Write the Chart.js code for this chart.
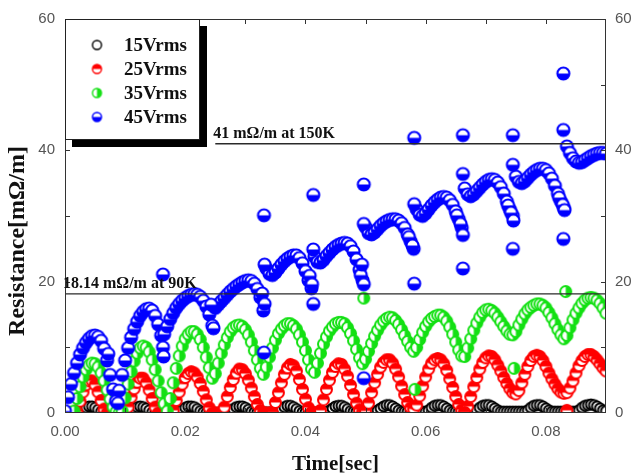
<!DOCTYPE html>
<html>
<head>
<meta charset="utf-8">
<script src="https://cdn.jsdelivr.net/npm/chart.js@4.4.0/dist/chart.umd.min.js"></script>
<style>
  html, body { margin: 0; padding: 0; background: #fff; }
  canvas { display: block; }
</style>
</head>
<body>
<canvas id="chart" width="635" height="474"></canvas>
<script>
// sample times, ms
const timeMs = [
  0, 0.5, 1, 1.5, 2, 2.5, 3, 3.5, 4, 4.5,
  5, 5.5, 6, 6.5, 7, 7.5, 8, 8.5, 9, 9.5,
  10, 10.5, 11, 11.5, 12, 12.5, 13, 13.5, 14, 14.5,
  15, 15.5, 16, 16.5, 17, 17.5, 18, 18.5, 19, 19.5,
  20, 20.5, 21, 21.5, 22, 22.5, 23, 23.5, 24, 24.5,
  25, 25.5, 26, 26.5, 27, 27.5, 28, 28.5, 29, 29.5,
  30, 30.5, 31, 31.5, 32, 32.5, 33, 33.5, 34, 34.5,
  35, 35.5, 36, 36.5, 37, 37.5, 38, 38.5, 39, 39.5,
  40, 40.5, 41, 41.5, 42, 42.5, 43, 43.5, 44, 44.5,
  45, 45.5, 46, 46.5, 47, 47.5, 48, 48.5, 49, 49.5,
  50, 50.5, 51, 51.5, 52, 52.5, 53, 53.5, 54, 54.5,
  55, 55.5, 56, 56.5, 57, 57.5, 58, 58.5, 59, 59.5,
  60, 60.5, 61, 61.5, 62, 62.5, 63, 63.5, 64, 64.5,
  65, 65.5, 66, 66.5, 67, 67.5, 68, 68.5, 69, 69.5,
  70, 70.5, 71, 71.5, 72, 72.5, 73, 73.5, 74, 74.5,
  75, 75.5, 76, 76.5, 77, 77.5, 78, 78.5, 79, 79.5,
  80, 80.5, 81, 81.5, 82, 82.5, 83, 83.5, 84, 84.5,
  85, 85.5, 86, 86.5, 87, 87.5, 88, 88.5, 89, 89.5,
  90
]

// resistance, mOhm/m
const r15 = [
  0, 0, 0, 0, 0, 0.2, 0.5, 0.8, 1.0, 1.0,
  0.8, 0.5, 0.2, 0, 0, 0, 0, 0, 0, 0,
  0, 0.1, 0.4, 0.7, 0.9, 1.0, 0.9, 0.7, 0.4, 0.1,
  0, 0, 0, 0, 0, 0, 0, 0, 0.2, 0.5,
  0.8, 1.0, 1.0, 0.9, 0.6, 0.3, 0.1, 0, 0, 0,
  0, 0, 0, 0, 0, 0.3, 0.6, 0.9, 1.0, 1.0,
  0.8, 0.5, 0.2, 0.1, 0.1, 0.1, 0.1, 0.1, 0.1, 0.1,
  0.1, 0.3, 0.6, 0.9, 1.1, 1.1, 0.9, 0.6, 0.3, 0.1,
  0.1, 0.1, 0.1, 0.1, 0.1, 0.1, 0.1, 0.1, 0.4, 0.7,
  1.0, 1.1, 1.1, 0.9, 0.6, 0.3, 0.2, 0.2, 0.2, 0.2,
  0.2, 0.2, 0.2, 0.2, 0.4, 0.7, 1.0, 1.2, 1.2, 1.0,
  0.7, 0.4, 0.2, 0.2, 0.2, 0.2, 0.2, 0.2, 0.2, 0.2,
  0.2, 0.4, 0.8, 1.1, 1.2, 1.2, 1.0, 0.7, 0.4, 0.2,
  0.2, 0.2, 0.2, 0.2, 0.2, 0.2, 0.2, 0.4, 0.8, 1.1,
  1.2, 1.2, 1.0, 0.7, 0.4, 0.2, 0.2, 0.2, 0.2, 0.2,
  0.2, 0.2, 0.2, 0.2, 0.4, 0.8, 1.1, 1.2, 1.2, 1.0,
  0.7, 0.4, 0.2, 0.2, 0.2, 0.2, 0.2, 0.2, 0.2, 0.2,
  0.2, 0.4, 0.8, 1.1, 1.2, 1.3, 1.2, 1.0, 0.7, 0.4,
  0.3
]

const r25 = [
  0, 0, 0, 0, 0.2, 1.8, 3.2, 4.3, 4.9, 4.9,
  4.3, 3.2, 1.9, 0.6, 0, 0, 0, 0, 0, 0,
  0, 0.9, 2.4, 3.7, 4.7, 5.3, 5.3, 4.6, 3.5, 2.2,
  0.9, 0, 0, 0, 0, 0, 0.4, 1.9, 3.2, 4.4,
  5.4, 6.0, 6.3, 6.1, 5.5, 4.5, 3.3, 2.0, 0.8, 0,
  0, 0, 0, 0.9, 2.5, 3.9, 5.1, 6.1, 6.7, 6.6,
  6.0, 5.0, 3.8, 2.5, 1.3, 0.4, 0, 0, 0, 0.1,
  1.6, 3.1, 4.6, 5.9, 6.9, 7.4, 7.2, 6.4, 5.1, 3.6,
  2.1, 0.8, 0.1, 0, 0, 0.4, 2.0, 3.6, 5.0, 6.2,
  7.1, 7.5, 7.4, 6.7, 5.6, 4.2, 2.8, 1.5, 0.5, 0.1,
  0.3, 1.5, 3.1, 4.6, 5.9, 7.0, 7.7, 8.1, 8.1, 7.6,
  6.7, 5.5, 4.1, 2.8, 1.6, 0.8, 0.6, 1.2, 2.6, 4.1,
  5.5, 6.7, 7.6, 8.1, 8.3, 8.1, 7.5, 6.5, 5.2, 3.9,
  2.5, 1.3, 0.5, 0.2, 1.0, 2.5, 4.0, 5.4, 6.7, 7.7,
  8.4, 8.7, 8.6, 8.1, 7.3, 6.4, 5.4, 4.5, 3.7, 3.1,
  2.9, 3.4, 4.6, 5.9, 7.1, 8.0, 8.6, 8.8, 8.6, 8.0,
  7.1, 6.1, 5.2, 4.4, 3.7, 3.2, 3.0, 3.1, 3.8, 4.9,
  6.1, 7.2, 8.0, 8.6, 8.9, 8.9, 8.6, 8.1, 7.5, 6.9,
  6.4
]

const r35 = [
  0, 0, 0, 0.3, 2.2, 4.0, 5.5, 6.6, 7.3, 7.6,
  7.5, 7.0, 6.1, 4.9, 3.5, 2.1, 0.9, 0.2, 0, 0.3,
  2.3, 4.4, 6.3, 7.9, 9.1, 9.9, 10.2, 10.0, 9.3, 8.1,
  6.6, 4.9, 3.1, 1.4, 0.3, 2.2, 4.6, 6.8, 8.7, 10.2,
  11.3, 12.0, 12.4, 12.4, 12.0, 11.2, 10.0, 8.5, 6.9, 5.3,
  6.0, 7.6, 9.1, 10.4, 11.5, 12.4, 13.0, 13.3, 13.4, 13.2,
  12.7, 11.9, 10.8, 9.5, 8.1, 6.8, 5.9, 7.0, 8.5, 9.9,
  11.1, 12.1, 12.8, 13.3, 13.6, 13.6, 13.3, 12.8, 11.9, 10.8,
  9.5, 8.1, 6.7, 6.2, 7.6, 9.1, 10.5, 11.6, 12.5, 13.1,
  13.6, 13.8, 13.8, 13.6, 13.0, 12.1, 11.0, 9.7, 8.4, 7.5,
  8.2, 9.4, 10.6, 11.7, 12.6, 13.4, 14.0, 14.4, 14.6, 14.5,
  14.1, 13.5, 12.7, 11.8, 10.9, 10.0, 9.4, 10.0, 11.2, 12.3,
  13.2, 13.9, 14.4, 14.7, 14.9, 14.9, 14.6, 14.0, 13.1, 12.0,
  10.8, 9.6, 8.7, 8.6, 9.9, 11.3, 12.6, 13.7, 14.6, 15.3,
  15.7, 15.8, 15.6, 15.2, 14.6, 13.9, 13.2, 12.5, 12.0, 11.9,
  12.4, 13.4, 14.3, 15.1, 15.7, 16.1, 16.4, 16.6, 16.6, 16.4,
  16.0, 15.3, 14.5, 13.6, 12.7, 11.9, 11.3, 11.8, 13.0, 14.2,
  15.2, 16.0, 16.7, 17.2, 17.5, 17.6, 17.5, 17.2, 16.7, 16.0,
  15.2
]

const r45 = [
  0.3, 2.4, 4.4, 6.1, 7.6, 8.9, 9.9, 10.7, 11.3, 11.7,
  11.8, 11.6, 11.0, 9.8, 8.0, 5.8, 3.6, 1.8, 3.4, 5.8,
  8.0, 9.9, 11.5, 12.8, 13.9, 14.8, 15.4, 15.8, 15.9, 15.6,
  14.8, 13.5, 11.8, 12.0, 13.2, 14.3, 15.2, 16.0, 16.6, 17.1,
  17.5, 17.8, 18.0, 18.1, 18.0, 17.7, 17.1, 16.2, 15.0, 13.3,
  16.0, 16.5, 17.0, 17.5, 18.0, 18.5, 18.9, 19.3, 19.6, 19.9,
  20.1, 20.2, 20.1, 19.7, 18.9, 17.6, 15.6, 22.0, 21.2, 21.0,
  21.4, 22.0, 22.6, 23.1, 23.5, 23.8, 24.0, 24.0, 23.6, 22.8,
  21.6, 20.2, 19.0, 23.8, 23.0, 22.9, 23.3, 23.9, 24.4, 24.9,
  25.3, 25.6, 25.8, 25.9, 25.8, 25.4, 24.6, 23.4, 21.8, 20.2,
  28.3, 27.4, 27.2, 27.5, 28.0, 28.5, 28.9, 29.2, 29.4, 29.5,
  29.5, 29.3, 28.9, 28.2, 27.2, 26.1, 25.0, 31.0, 30.2, 30.0,
  30.4, 31.0, 31.6, 32.1, 32.5, 32.8, 32.9, 32.8, 32.4, 31.7,
  30.7, 29.5, 28.2, 34.2, 33.3, 33.0, 33.3, 33.8, 34.3, 34.8,
  35.2, 35.5, 35.6, 35.5, 35.1, 34.4, 33.4, 32.2, 31.0, 30.0,
  36.0, 35.2, 35.0, 35.3, 35.8, 36.3, 36.7, 37.0, 37.2, 37.2,
  37.0, 36.5, 35.7, 34.6, 33.4, 32.2, 31.2, 40.6, 39.6, 38.8,
  38.3, 38.1, 38.2, 38.5, 38.8, 39.1, 39.3, 39.5, 39.6, 39.6,
  39.5
]

// points off the sample grid (fast drops and stray readings), [ms, value]
const extra25 = [[66.5, 0.1], [83.5, 0.4]]
const extra35 = [[49.7, 17.5], [58.2, 3.6], [74.7, 6.8], [83.3, 18.5]]
const extra45 = [
  [7.2, 9.0], [8.8, 1.5],
  [16.3, 21.1], [16.3, 10.0], [16.4, 8.6],
  [24.3, 16.5], [24.7, 12.9],
  [32.8, 18.2], [33.1, 30.1], [33.1, 9.2], [33.2, 16.6], [33.2, 22.6],
  [40.7, 20.9], [41.1, 19.6], [41.3, 33.2], [41.3, 16.6], [41.3, 24.9],
  [49.2, 21.0], [49.4, 22.6], [49.7, 34.8], [49.7, 28.8], [49.7, 19.6], [49.7, 5.3],
  [57.2, 26.8], [57.8, 25.5], [58.1, 41.9], [58.1, 31.8], [58.1, 19.7],
  [65.2, 30.1], [65.8, 28.8], [66.2, 27.1], [66.2, 42.3], [66.2, 36.4], [66.2, 22.0],
  [73.7, 31.6], [74.2, 30.5], [74.6, 29.3], [74.5, 42.3], [74.5, 37.8], [74.5, 25.0],
  [82.2, 32.8], [82.8, 31.7], [83.1, 30.9], [82.9, 51.7], [82.9, 43.1], [82.9, 26.5]
]

const seriesLabels = ['15Vrms', '25Vrms', '35Vrms', '45Vrms']
const xTicks = [0, 0.02, 0.04, 0.06, 0.08]
const yTicks = [0, 20, 40, 60]
const xTickMarks = [0.01, 0.02, 0.03, 0.04, 0.05, 0.06, 0.07, 0.08]
const yTickMarks = [10, 20, 30, 40, 50]
const refLines = [
  { text: '18.14 mΩ/m at 90K', from: 0, to: 0.09, value: 18.14 },
  { text: '41 mΩ/m at 150K', from: 0.025, to: 0.09, value: 41 }
]

const serif = '"Liberation Serif", "DejaVu Serif", serif'
const sans = '"Liberation Sans", Arial, sans-serif'

// circle symbols, partly filled like the original plot
function marker(fill, color, r, lw) {
  const size = Math.ceil(r * 2 + lw + 2)
  const c = document.createElement('canvas')
  c.width = size
  c.height = size
  const g = c.getContext('2d')
  const m = size / 2
  g.beginPath()
  g.arc(m, m, r, 0, Math.PI * 2)
  g.fillStyle = '#fff'
  g.fill()
  if (fill) {
    g.beginPath()
    if (fill === 'top') g.arc(m, m, r, Math.PI, Math.PI * 2)
    if (fill === 'bottom') g.arc(m, m, r, 0, Math.PI)
    if (fill === 'right') g.arc(m, m, r, -Math.PI / 2, Math.PI / 2)
    g.closePath()
    g.fillStyle = color
    g.fill()
  }
  g.beginPath()
  g.arc(m, m, r, 0, Math.PI * 2)
  g.lineWidth = lw
  g.strokeStyle = color
  g.stroke()
  return c
}

const looks = [
  { color: '#000000', fill: null, r: 5, lw: 2.1 },
  { color: '#ff0000', fill: 'top', r: 5.5, lw: 2.0 },
  { color: '#14e014', fill: 'right', r: 5.5, lw: 2.0 },
  { color: '#0000ff', fill: 'bottom', r: 6, lw: 2.1 }
]
const dataMarkers = looks.map(l => marker(l.fill, l.color, l.r, l.lw))
const legendMarkers = looks.map(l => marker(l.fill, l.color, 4.5, 1.4))

function points(values, extra) {
  const pts = timeMs.map((t, i) => ({ x: t / 1000, y: values[i] }))
  extra.forEach(p => pts.push({ x: p[0] / 1000, y: p[1] }))
  return pts
}

const seriesValues = [r15, r25, r35, r45]
const seriesExtra = [[], extra25, extra35, extra45]

const datasets = seriesValues.map((vals, k) => ({
  label: seriesLabels[k],
  data: points(vals, seriesExtra[k]),
  pointStyle: dataMarkers[k],
  pointRadius: 5,
  showLine: false,
  order: 4 - k
}))

refLines.forEach(l => {
  datasets.push({
    label: l.text,
    data: [{ x: l.from, y: l.value }, { x: l.to, y: l.value }],
    showLine: true,
    borderColor: '#2a2a2a',
    borderWidth: 1.3,
    pointRadius: 0,
    order: 0
  })
})

const decorations = {
  id: 'decorations',
  afterDatasetsDraw(chart) {
    const { ctx, chartArea: a, scales: { x, y } } = chart
    ctx.save()

    // frame and inward ticks
    ctx.strokeStyle = '#333'
    ctx.lineWidth = 1
    ctx.strokeRect(a.left + 0.5, a.top + 0.5, a.right - a.left - 1, a.bottom - a.top - 1)
    ctx.beginPath()
    xTickMarks.forEach(v => {
      const px = Math.round(x.getPixelForValue(v)) + 0.5
      ctx.moveTo(px, a.top)
      ctx.lineTo(px, a.top + 5)
      ctx.moveTo(px, a.bottom)
      ctx.lineTo(px, a.bottom - 5)
    })
    yTickMarks.forEach(v => {
      const py = Math.round(y.getPixelForValue(v)) + 0.5
      ctx.moveTo(a.left, py)
      ctx.lineTo(a.left + 5, py)
      ctx.moveTo(a.right, py)
      ctx.lineTo(a.right - 5, py)
    })
    ctx.stroke()

    // reference line captions
    ctx.fillStyle = '#111'
    ctx.font = 'bold 16px ' + serif
    ctx.textAlign = 'left'
    ctx.textBaseline = 'alphabetic'
    refLines.forEach(l => {
      ctx.fillText(l.text, x.getPixelForValue(l.from) - 2, y.getPixelForValue(l.value) - 6)
    })

    // legend box with heavy shadow
    const bx = a.left, by = a.top, bw = 135, bh = 121
    ctx.fillStyle = '#000'
    ctx.fillRect(bx + 7, by + 7, bw, bh)
    ctx.fillStyle = '#fff'
    ctx.fillRect(bx, by, bw, bh)
    ctx.strokeStyle = '#222'
    ctx.strokeRect(bx + 0.5, by + 0.5, bw - 1, bh - 1)
    ctx.font = 'bold 19px ' + serif
    ctx.fillStyle = '#111'
    ctx.textBaseline = 'middle'
    seriesLabels.forEach((label, k) => {
      const ly = by + 26 + k * 24
      const m = legendMarkers[k]
      ctx.drawImage(m, bx + 32 - m.width / 2, ly - m.height / 2)
      ctx.fillText(label, bx + 59, ly + 1)
    })

    // axis titles
    ctx.textAlign = 'center'
    ctx.textBaseline = 'alphabetic'
    ctx.font = 'bold 21px ' + serif
    ctx.fillText('Time[sec]', (a.left + a.right) / 2, 470)
    ctx.translate(24, 241)
    ctx.rotate(-Math.PI / 2)
    ctx.font = 'bold 24px ' + serif
    ctx.fillText('Resistance[mΩ/m]', 0, 0)

    ctx.restore()
  }
}

const tickFont = { family: sans, size: 15 }

new Chart(document.getElementById('chart').getContext('2d'), {
  type: 'scatter',
  data: { datasets: datasets },
  options: {
    responsive: false,
    animation: false,
    events: [],
    layout: { padding: { top: 15, left: 0, right: 0, bottom: 0 } },
    plugins: { legend: { display: false }, tooltip: { enabled: false } },
    scales: {
      x: {
        type: 'linear',
        min: 0,
        max: 0.09,
        afterBuildTicks: s => { s.ticks = xTicks.map(v => ({ value: v })) },
        afterFit: s => { s.height = 61 },
        grid: { display: false, drawTicks: false },
        border: { display: false },
        ticks: { font: tickFont, color: '#555', padding: 10, maxRotation: 0, callback: v => v.toFixed(2) }
      },
      y: {
        position: 'left',
        min: 0,
        max: 60,
        afterBuildTicks: s => { s.ticks = yTicks.map(v => ({ value: v })) },
        afterFit: s => { s.width = 65 },
        grid: { display: false, drawTicks: false },
        border: { display: false },
        ticks: { font: tickFont, color: '#555', padding: 10 }
      },
      y2: {
        position: 'right',
        min: 0,
        max: 60,
        afterBuildTicks: s => { s.ticks = yTicks.map(v => ({ value: v })) },
        afterFit: s => { s.width = 29 },
        grid: { display: false, drawTicks: false },
        border: { display: false },
        ticks: { font: tickFont, color: '#555', padding: 9 }
      }
    }
  },
  plugins: [decorations]
})
</script>
</body>
</html>
